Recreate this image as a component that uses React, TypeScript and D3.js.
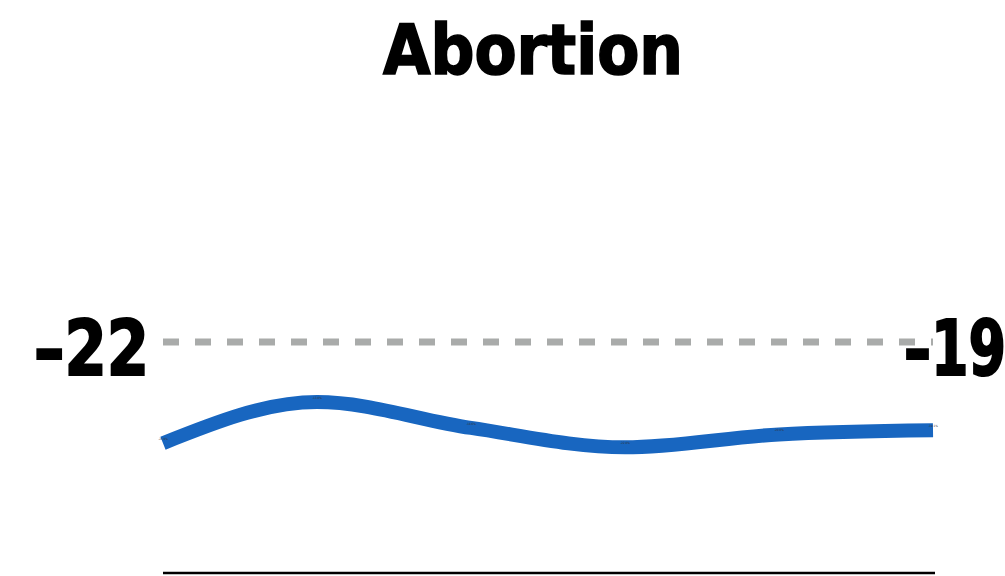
import React from "react";
import * as d3 from "d3";

const title = "Abortion";
const periods = ["P1", "P2", "P3", "P4", "P5", "P6"];
const values = [-21.9, -13.0, -18.6, -22.8, -20.0, -19.1];
const pointLabels = ["-21.9%", "-13.0%", "-18.6%", "-22.8%", "-20.0%", "-19.1%"];
const startLabel = "–22";
const endLabel = "–19";
const referenceValue = 0;
const yDomain: [number, number] = [-50, 50];

export default function App() {
  const W = 1005;
  const H = 576;
  const x = d3.scalePoint<string>().domain(periods).range([163, 933]);
  const y = d3.scaleLinear().domain(yDomain).range([573, 111]);
  const line = d3
    .line<number>()
    .x((_, i) => x(periods[i]) as number)
    .y((d) => y(d))
    .curve(d3.curveMonotoneX);
  const font = "'DejaVu Sans Condensed', 'DejaVu Sans', sans-serif";
  const y0 = y(referenceValue);
  return (
    <svg
      width={W}
      height={H}
      style={{ position: "absolute", left: 0, top: 0, background: "#fff" }}
    >
      <text
        x={533}
        y={74}
        textAnchor="middle"
        fontFamily={font}
        fontWeight={700}
        fontSize={70}
        textLength={300}
        lengthAdjust="spacingAndGlyphs"
        fill="#000"
        stroke="#000"
        strokeWidth={1.6}
      >
        {title}
      </text>
      <line
        x1={x(periods[0])}
        x2={x(periods[periods.length - 1])}
        y1={y0}
        y2={y0}
        stroke="#a9abaa"
        strokeWidth={7}
        strokeDasharray="16 16"
      />
      <line
        x1={x(periods[0])}
        x2={(x(periods[periods.length - 1]) as number) + 2}
        y1={y(yDomain[0])}
        y2={y(yDomain[0])}
        stroke="#000"
        strokeWidth={2.5}
      />
      <path
        d={line(values) || ""}
        fill="none"
        stroke="#1866c0"
        strokeWidth={14}
        strokeLinecap="butt"
        strokeLinejoin="round"
      />
      {values.map((v, i) => (
        <text
          key={i}
          x={x(periods[i])}
          y={y(v) - 3}
          textAnchor="middle"
          fontFamily={font}
          fontSize={3}
          fill="#333"
        >
          {pointLabels[i]}
        </text>
      ))}
      <text
        x={149}
        y={375}
        textAnchor="end"
        fontFamily={font}
        fontWeight={700}
        fontSize={76}
        textLength={115}
        lengthAdjust="spacingAndGlyphs"
        fill="#000"
        stroke="#000"
        strokeWidth={2}
      >
        {startLabel}
      </text>
      <text
        x={904}
        y={375}
        textAnchor="start"
        fontFamily={font}
        fontWeight={700}
        fontSize={76}
        textLength={102}
        lengthAdjust="spacingAndGlyphs"
        fill="#000"
        stroke="#000"
        strokeWidth={2}
      >
        {endLabel}
      </text>
    </svg>
  );
}
